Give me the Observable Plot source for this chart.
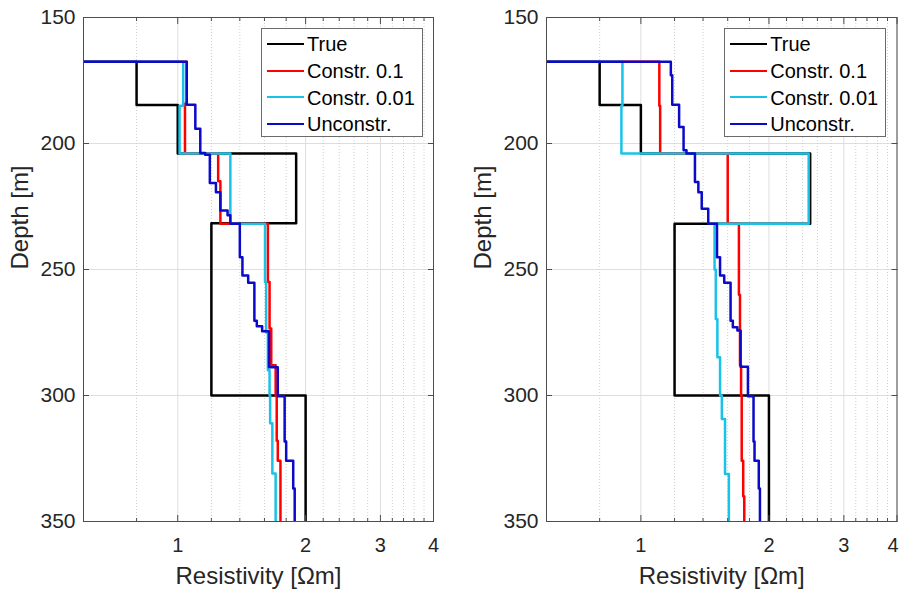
<!DOCTYPE html>
<html>
<head>
<meta charset="utf-8">
<script src="https://cdn.jsdelivr.net/npm/d3@7"></script>
<script src="https://cdn.jsdelivr.net/npm/@observablehq/plot@0.6"></script>
<style>
  body { margin: 0; background: #fff; }
  #wrap { position: relative; width: 900px; height: 592px; overflow: hidden; font-family: "Liberation Sans", Arial, Helvetica, sans-serif; }
  .panel { position: absolute; top: 0; }
  .legend { position: absolute; background: #fff; border: 1px solid #6b6b6b; box-sizing: border-box; }
  .legend .sw { position: absolute; height: 0; border-top: 2.5px solid; }
  .legend .lab { position: absolute; font-size: 20px; color: #000; white-space: nowrap; line-height: 20px; }
</style>
</head>
<body>
<div id="wrap"></div>
<script>
// ---- Data ----
const seriesNames = ["True", "Constr. 0.1", "Constr. 0.01", "Unconstr."];
const seriesColors = ["#000000", "#ff0000", "#19c2e6", "#0a0ac8"];
const xTicks = [1, 2, 3, 4];
const xMinorTicks = [0.8, 1.2, 1.4, 1.6, 1.8, 2.2, 2.4, 2.6, 2.8, 3.2, 3.4, 3.6, 3.8];
const yTicks = [150, 200, 250, 300, 350];

// Left panel: each depth is the top of a layer whose resistivity is given (last entry = bottom of view)
const leftTrueDepth = [150, 167.6, 184.7, 204, 231.6, 300, 350];
const leftTrueRes   = [0.3, 0.8, 1.0, 1.9, 1.2, 2.0, 2.0];
const leftC1Depth = [150, 167.6, 184.2, 204, 215, 231.8, 255, 273.4, 288, 300, 318, 325.9, 350];
const leftC1Res   = [0.3, 1.05, 1.04, 1.245, 1.26, 1.63, 1.645, 1.66, 1.70, 1.71, 1.72, 1.745, 1.745];
const leftC01Depth = [150, 167.6, 185, 204, 231.8, 255, 275, 290, 300, 311, 331, 350];
const leftC01Res   = [0.3, 1.03, 1.01, 1.33, 1.605, 1.615, 1.63, 1.645, 1.65, 1.67, 1.70, 1.705];
const leftUDepth = [150, 167.6, 184.6, 194.1, 203.8, 204.5, 215.7, 219.3, 226.6, 228.5, 231.8, 245.1, 252.4, 255.3, 270.3, 272.5, 274.5, 288.8, 300.3, 318.3, 325.9, 336.9, 350];
const leftURes   = [0.3, 1.05, 1.10, 1.13, 1.16, 1.19, 1.23, 1.26, 1.31, 1.33, 1.40, 1.42, 1.465, 1.515, 1.535, 1.58, 1.64, 1.72, 1.785, 1.80, 1.87, 1.885, 1.885];

// Right panel
const rightTrueDepth = [150, 167.6, 184.7, 204, 231.8, 300, 350];
const rightTrueRes   = [0.3, 0.8, 1.0, 2.5, 1.2, 2.0, 2.0];
const rightC1Depth = [150, 167.6, 185, 204, 231.8, 260, 288, 300, 325.9, 340, 350];
const rightC1Res   = [0.3, 1.105, 1.11, 1.60, 1.70, 1.71, 1.72, 1.726, 1.74, 1.75, 1.75];
const rightC01Depth = [150, 167.6, 185, 204, 231.8, 250, 269.6, 284.8, 300, 309.3, 331.2, 350];
const rightC01Res   = [0.3, 0.905, 0.90, 2.48, 1.49, 1.50, 1.513, 1.535, 1.55, 1.577, 1.61, 1.61];
const rightUDepth = [150, 167.6, 172.9, 184.6, 193.5, 202.7, 204, 215.3, 219.3, 225.9, 231.8, 245.1, 252.4, 255.3, 270.3, 272.9, 274.2, 288.6, 300.3, 318.3, 325.9, 336.9, 350];
const rightURes   = [0.3, 1.176, 1.185, 1.23, 1.26, 1.28, 1.34, 1.365, 1.39, 1.44, 1.51, 1.535, 1.57, 1.625, 1.645, 1.686, 1.716, 1.785, 1.84, 1.85, 1.893, 1.905, 1.905];

const xLabel = "Resistivity [Ωm]";
const yLabel = "Depth [m]";

// ---- Build tables ----
function rows(name, depth, res) {
  return depth.map((d, i) => ({series: name, depth: d, res: res[i]}));
}
const leftData = [
  ...rows(seriesNames[0], leftTrueDepth, leftTrueRes),
  ...rows(seriesNames[1], leftC1Depth, leftC1Res),
  ...rows(seriesNames[2], leftC01Depth, leftC01Res),
  ...rows(seriesNames[3], leftUDepth, leftURes)
];
const rightData = [
  ...rows(seriesNames[0], rightTrueDepth, rightTrueRes),
  ...rows(seriesNames[1], rightC1Depth, rightC1Res),
  ...rows(seriesNames[2], rightC01Depth, rightC01Res),
  ...rows(seriesNames[3], rightUDepth, rightURes)
];

const textColor = "#262626";
const axisColor = "#4d4d4d";

function panel(data, ml, mr, lastDx) {
  const inner = xTicks.slice(0, -1);
  const last = xTicks.slice(-1);
  return Plot.plot({
    width: 450, height: 592,
    marginLeft: ml, marginRight: mr, marginTop: 17, marginBottom: 71,
    style: {fontFamily: '"Liberation Sans", Arial, Helvetica, sans-serif', background: "transparent", overflow: "visible"},
    x: {type: "log", domain: [0.6, 4]},
    y: {domain: [150, 350], reverse: true},
    color: {domain: seriesNames, range: seriesColors},
    marks: [
      Plot.gridY(yTicks, {stroke: "#dedede", strokeOpacity: 1}),
      Plot.gridX(xMinorTicks, {stroke: "#cfcfcf", strokeOpacity: 1, strokeDasharray: "1,2"}),
      Plot.gridX(xTicks, {stroke: "#dedede", strokeOpacity: 1}),
      Plot.line(data, {x: "res", y: "depth", z: "series", stroke: "series", strokeWidth: 2.5, curve: "step-before", clip: true}),
      Plot.frame({stroke: axisColor}),
      Plot.axisY(yTicks, {anchor: "left", tickSize: 0, tickPadding: 8, fontSize: 21, fill: textColor, label: null}),
      Plot.axisY(yTicks, {anchor: "left", tickSize: -6, fill: "none", stroke: axisColor, label: null}),
      Plot.axisY(yTicks, {anchor: "right", tickSize: -6, fill: "none", stroke: axisColor, label: null}),
      Plot.axisX(inner, {anchor: "bottom", tickSize: 0, tickPadding: 16, fontSize: 20, fill: textColor, label: null, tickFormat: d => String(d)}),
      Plot.axisX(last, {anchor: "bottom", tickSize: 0, tickPadding: 16, fontSize: 20, fill: textColor, label: null, dx: lastDx, tickFormat: d => String(d)}),
      Plot.axisX(xTicks, {anchor: "bottom", tickSize: -6, fill: "none", stroke: axisColor, label: null}),
      Plot.axisX(xTicks, {anchor: "top", tickSize: -6, fill: "none", stroke: axisColor, label: null}),
      Plot.axisX(xMinorTicks, {anchor: "bottom", tickSize: -3, fill: "none", stroke: axisColor, label: null}),
      Plot.axisX(xMinorTicks, {anchor: "top", tickSize: -3, fill: "none", stroke: axisColor, label: null}),
      Plot.text([xLabel], {frameAnchor: "bottom", dy: 55, fontSize: 24, fill: textColor, lineAnchor: "middle", text: d => d}),
      Plot.text([yLabel], {frameAnchor: "left", dx: -63, rotate: -90, fontSize: 24, fill: textColor, lineAnchor: "middle", text: d => d})
    ]
  });
}

function legend(left, top) {
  const box = document.createElement("div");
  box.className = "legend";
  box.style.left = left + "px";
  box.style.top = top + "px";
  box.style.width = "162px";
  box.style.height = "109px";
  seriesNames.forEach((name, i) => {
    const cy = 15.6 + i * 26.7;
    const sw = document.createElement("div");
    sw.className = "sw";
    sw.style.left = "5px";
    sw.style.width = "37px";
    sw.style.top = (cy - 1.25) + "px";
    sw.style.borderTopColor = seriesColors[i];
    box.appendChild(sw);
    const lab = document.createElement("div");
    lab.className = "lab";
    lab.style.left = "45px";
    lab.style.top = (cy - 10) + "px";
    lab.textContent = name;
    box.appendChild(lab);
  });
  return box;
}

const wrap = document.getElementById("wrap");
const p1 = panel(leftData, 83, 17, 0);
p1.classList.add("panel");
p1.style.left = "0px";
wrap.appendChild(p1);
const p2 = panel(rightData, 96, 3.5, -4);
p2.classList.add("panel");
p2.style.left = "450px";
wrap.appendChild(p2);
wrap.appendChild(legend(261, 27.7));
wrap.appendChild(legend(724.3, 27.7));
</script>
</body>
</html>
